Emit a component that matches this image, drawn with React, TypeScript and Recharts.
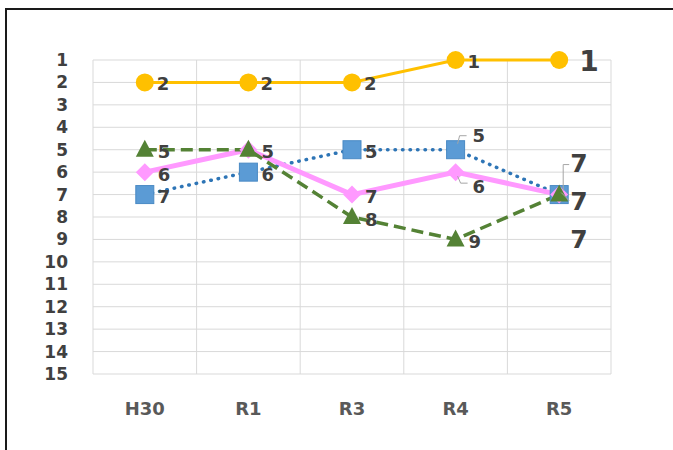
import React from 'react'
import { LineChart, Line, XAxis, YAxis, CartesianGrid, LabelList } from 'recharts'

// 年度
const categories = ['H30', 'R1', 'R3', 'R4', 'R5']

// 各系列の順位
const orangeRanks = [2, 2, 2, 1, 1]
const blueRanks = [7, 6, 5, 5, 7]
const pinkRanks = [6, 5, 7, 6, 7]
const greenRanks = [5, 5, 8, 9, 7]

const rankTicks = [1, 2, 3, 4, 5, 6, 7, 8, 9, 10, 11, 12, 13, 14, 15]

const data = categories.map((name, i) => ({
    name,
    orange: orangeRanks[i],
    blue: blueRanks[i],
    pink: pinkRanks[i],
    green: greenRanks[i],
}))

const FONT = '"DejaVu Sans", sans-serif'
const LABEL_COLOR = '#404040'

// ラベル位置の調整 (dx, dy, size, leader)
const LABEL_STYLE: Record<string, any[]> = {
    orange: [
        { dx: 12, dy: 1 }, { dx: 12, dy: 1 }, { dx: 12, dy: 1 }, { dx: 12, dy: 1 },
        { dx: 20, dy: 1, size: 28 },
    ],
    blue: [
        { dx: 13, dy: 2 }, { dx: 13, dy: 2 }, { dx: 13, dy: 2 },
        { dx: 17, dy: -14, leader: 'up' },
        { dx: 11, dy: -31, size: 25, leader: 'upLong' },
    ],
    pink: [
        { dx: 13, dy: 2 }, null, { dx: 13, dy: 2 },
        { dx: 17, dy: 14, leader: 'down' },
        { dx: 11, dy: 7, size: 25, leader: 'diag' },
    ],
    green: [
        { dx: 13, dy: 2 }, { dx: 13, dy: 2 }, { dx: 13, dy: 2 }, { dx: 13, dy: 2 },
        { dx: 11, dy: 45, size: 25 },
    ],
}

const renderLabel = (series: string) => (props: any) => {
    const { x, y, value, index } = props
    const s = LABEL_STYLE[series][index]
    if (!s) return null
    const tx = x + s.dx
    const ty = y + s.dy
    let leader = null
    if (s.leader === 'up') {
        leader = <polyline points={`${x + 2},${y - 6} ${x + 4},${y - 14} ${x + 11},${y - 14}`} fill="none" stroke="#a6a6a6" strokeWidth={1} />
    } else if (s.leader === 'down') {
        leader = <polyline points={`${x + 2},${y + 4} ${x + 5},${y + 11} ${x + 12},${y + 11}`} fill="none" stroke="#a6a6a6" strokeWidth={1} />
    } else if (s.leader === 'upLong') {
        leader = <polyline points={`${x + 4},${y - 4} ${x + 4},${y - 30} ${x + 10},${y - 30}`} fill="none" stroke="#a6a6a6" strokeWidth={1} />
    } else if (s.leader === 'diag') {
        leader = <polyline points={`${x + 2},${y - 2} ${x + 10},${y + 6}`} fill="none" stroke="#a6a6a6" strokeWidth={1} />
    }
    return (
        <g key={`lbl-${series}-${index}`}>
            {leader}
            <text
                x={tx}
                y={ty}
                fill={LABEL_COLOR}
                fontSize={s.size || 18}
                fontWeight={700}
                fontFamily={FONT}
                textAnchor="start"
                dominantBaseline="central"
            >
                {value}
            </text>
        </g>
    )
}

const CircleDot = (props: any) => {
    const { cx, cy, index } = props
    return <circle key={`c-${index}`} cx={cx} cy={cy} r={9} fill="#FFC000" />
}

const SquareDot = (props: any) => {
    const { cx, cy, index } = props
    return <rect key={`s-${index}`} x={cx - 9} y={cy - 9} width={18} height={18} fill="#5B9BD5" stroke="#4a8ac4" strokeWidth={1} />
}

const DiamondDot = (props: any) => {
    const { cx, cy, index } = props
    return <polygon key={`d-${index}`} points={`${cx},${cy - 9} ${cx + 9},${cy} ${cx},${cy + 9} ${cx - 9},${cy}`} fill="#FF99FF" />
}

const TriangleDot = (props: any) => {
    const { cx, cy, index } = props
    return <polygon key={`t-${index}`} points={`${cx},${cy - 10} ${cx + 9},${cy + 7} ${cx - 9},${cy + 7}`} fill="#548235" />
}

export default function App() {
    return (
        <div style={{ position: 'fixed', left: 0, top: 0, width: 673, height: 450, overflow: 'hidden', background: '#fff' }}>
            <div style={{ position: 'absolute', left: 5, top: 8, width: 720, height: 480, border: '2px solid #1a1a1a', background: '#fff' }}>
                <LineChart
                    width={660}
                    height={430}
                    data={data}
                    margin={{ top: 50, right: 56, left: 0, bottom: 36 }}
                >
                    <CartesianGrid
                        stroke="#d9d9d9"
                        strokeWidth={1}
                        verticalCoordinatesGenerator={({ offset }: any) =>
                            [0, 1, 2, 3, 4, 5].map(i => offset.left + (i * offset.width) / 5)
                        }
                    />
                    <XAxis
                        dataKey="name"
                        scale="band"
                        axisLine={false}
                        tickLine={false}
                        tickMargin={22}
                        height={30}
                        interval={0}
                        tick={{ fill: '#595959', fontSize: 18, fontWeight: 700, fontFamily: FONT }}
                    />
                    <YAxis
                        type="number"
                        domain={[1, 15]}
                        reversed
                        ticks={rankTicks}
                        interval={0}
                        width={86}
                        axisLine={false}
                        tickLine={false}
                        tickMargin={19}
                        tick={{ fill: '#404040', fontSize: 17, fontWeight: 700, fontFamily: FONT }}
                    />
                    <Line dataKey="orange" stroke="#FFC000" strokeWidth={3} dot={CircleDot} isAnimationActive={false}>
                        <LabelList dataKey="orange" content={renderLabel('orange')} />
                    </Line>
                    <Line dataKey="blue" stroke="#2E75B6" strokeWidth={3.5} strokeDasharray="0.5 7" strokeLinecap="round" dot={SquareDot} isAnimationActive={false}>
                        <LabelList dataKey="blue" content={renderLabel('blue')} />
                    </Line>
                    <Line dataKey="pink" stroke="#FF99FF" strokeWidth={5} dot={DiamondDot} isAnimationActive={false}>
                        <LabelList dataKey="pink" content={renderLabel('pink')} />
                    </Line>
                    <Line dataKey="green" stroke="#548235" strokeWidth={3.5} strokeDasharray="12 6" dot={TriangleDot} isAnimationActive={false}>
                        <LabelList dataKey="green" content={renderLabel('green')} />
                    </Line>
                </LineChart>
            </div>
        </div>
    )
}
